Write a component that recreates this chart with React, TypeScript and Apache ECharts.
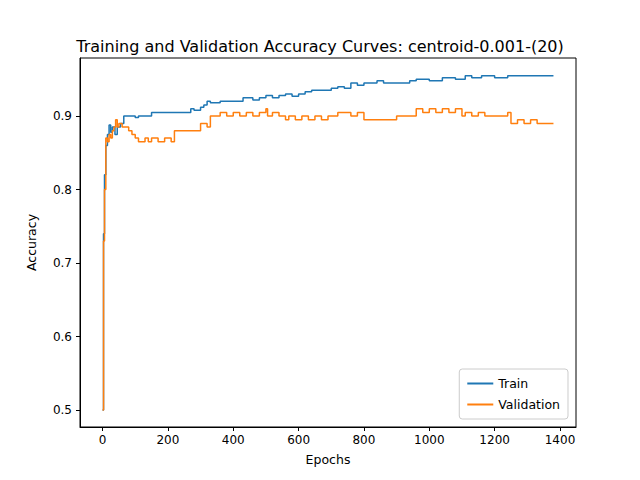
import { useEffect, useRef } from 'react'
import * as echarts from 'echarts'

// change points (epoch, accuracy); series drawn as steps
const trainEpochs = [0, 3, 6, 10, 15, 20, 25, 30, 38, 45, 55, 65, 100, 110, 120, 150, 250, 270, 280, 300, 310, 320, 330, 360, 380, 420, 430, 460, 480, 500, 520, 540, 560, 580, 600, 620, 640, 660, 700, 720, 740, 760, 780, 800, 820, 840, 860, 900, 940, 960, 1000, 1040, 1080, 1110, 1130, 1160, 1180, 1200, 1240, 1250, 1380]
const trainValues = [0.5, 0.74, 0.82, 0.86, 0.875, 0.888, 0.878, 0.885, 0.875, 0.885, 0.89, 0.9, 0.898, 0.9, 0.9, 0.905, 0.905, 0.91, 0.908, 0.912, 0.915, 0.92, 0.918, 0.92, 0.92, 0.92, 0.925, 0.922, 0.925, 0.928, 0.925, 0.928, 0.93, 0.927, 0.93, 0.933, 0.935, 0.935, 0.938, 0.94, 0.938, 0.945, 0.942, 0.945, 0.945, 0.948, 0.945, 0.945, 0.948, 0.95, 0.948, 0.952, 0.95, 0.955, 0.952, 0.955, 0.955, 0.952, 0.955, 0.955, 0.955]

const valEpochs = [0, 3, 6, 10, 15, 20, 25, 30, 35, 40, 45, 50, 60, 70, 80, 90, 100, 110, 130, 140, 150, 170, 190, 210, 220, 300, 320, 330, 340, 360, 380, 400, 420, 440, 460, 480, 500, 505, 520, 540, 560, 570, 590, 610, 630, 650, 670, 690, 700, 720, 760, 780, 800, 900, 960, 980, 1000, 1020, 1040, 1060, 1080, 1100, 1110, 1130, 1150, 1170, 1200, 1240, 1250, 1270, 1290, 1310, 1330, 1350, 1380]
const valValues = [0.5, 0.73, 0.8, 0.87, 0.865, 0.875, 0.87, 0.88, 0.885, 0.895, 0.885, 0.89, 0.885, 0.885, 0.88, 0.875, 0.87, 0.865, 0.87, 0.865, 0.87, 0.865, 0.87, 0.865, 0.88, 0.89, 0.885, 0.9, 0.9, 0.905, 0.9, 0.905, 0.9, 0.905, 0.9, 0.905, 0.91, 0.9, 0.905, 0.9, 0.895, 0.9, 0.895, 0.9, 0.895, 0.9, 0.895, 0.9, 0.9, 0.905, 0.9, 0.905, 0.895, 0.9, 0.91, 0.905, 0.91, 0.905, 0.91, 0.905, 0.91, 0.9, 0.905, 0.9, 0.905, 0.9, 0.9, 0.905, 0.89, 0.895, 0.89, 0.895, 0.89, 0.89, 0.89]

const xTicks = [0, 200, 400, 600, 800, 1000, 1200, 1400]
const yTicks = [0.5, 0.6, 0.7, 0.8, 0.9]

export default function App() {
  const chartRef = useRef<HTMLDivElement>(null)

  useEffect(() => {
    if (!chartRef.current) return
    const chart = echarts.init(chartRef.current, undefined, { renderer: 'svg' })
    const font = 'DejaVu Sans'

    const option: echarts.EChartsOption = {
      animation: false,
      textStyle: { fontFamily: font },
      title: {
        text: 'Training and Validation Accuracy Curves: centroid-0.001-(20)',
        left: 'center',
        top: 33,
        textStyle: { fontSize: 16, fontWeight: 'normal', color: '#000', fontFamily: font }
      },
      legend: {
        orient: 'vertical',
        right: 72,
        bottom: 61,
        itemWidth: 26,
        itemHeight: 2,
        icon: 'rect',
        itemGap: 8,
        padding: [8, 8, 8, 8],
        borderColor: '#ccc',
        borderWidth: 1,
        borderRadius: 3,
        textStyle: { fontSize: 12.5, color: '#000', fontFamily: font },
        data: ['Train', 'Validation']
      },
      grid: { left: 80, right: 64, top: 58, bottom: 53 },
      xAxis: {
        type: 'value',
        min: -69,
        max: 1449,
        name: 'Epochs',
        nameLocation: 'middle',
        nameGap: 26,
        nameTextStyle: { fontSize: 12.5, color: '#000' },
        axisLine: { onZero: false, lineStyle: { color: '#000' } },
        axisTick: { customValues: xTicks, length: 4, lineStyle: { color: '#000' } },
        axisLabel: { customValues: xTicks, color: '#000', fontSize: 12, margin: 7, formatter: (v: number) => String(v) },
        splitLine: { show: false }
      },
      yAxis: {
        type: 'value',
        min: 0.477,
        max: 0.979,
        name: 'Accuracy',
        nameLocation: 'middle',
        nameGap: 42,
        nameTextStyle: { fontSize: 12.5, color: '#000' },
        axisLine: { show: true, onZero: false, lineStyle: { color: '#000' } },
        axisTick: { customValues: yTicks, length: 4, lineStyle: { color: '#000' } },
        axisLabel: { customValues: yTicks, color: '#000', fontSize: 12, formatter: (v: number) => v.toFixed(1) },
        splitLine: { show: false }
      },
      series: [
        {
          name: 'Train',
          type: 'line',
          step: 'end',
          showSymbol: false,
          data: trainEpochs.map((e, i) => [e, trainValues[i]]),
          itemStyle: { color: '#1f77b4' },
          lineStyle: { width: 1.5, color: '#1f77b4' }
        },
        {
          name: 'Validation',
          type: 'line',
          step: 'end',
          showSymbol: false,
          data: valEpochs.map((e, i) => [e, valValues[i]]),
          itemStyle: { color: '#ff7f0e' },
          lineStyle: { width: 1.5, color: '#ff7f0e' }
        }
      ],
      graphic: [
        { type: 'rect', shape: { x: 80, y: 58, width: 496, height: 369 }, style: { fill: 'none', stroke: '#000', lineWidth: 1 }, silent: true }
      ]
    }

    chart.setOption(option)
    return () => chart.dispose()
  }, [])

  return <div ref={chartRef} style={{ width: 640, height: 480, margin: -8 }} />
}
